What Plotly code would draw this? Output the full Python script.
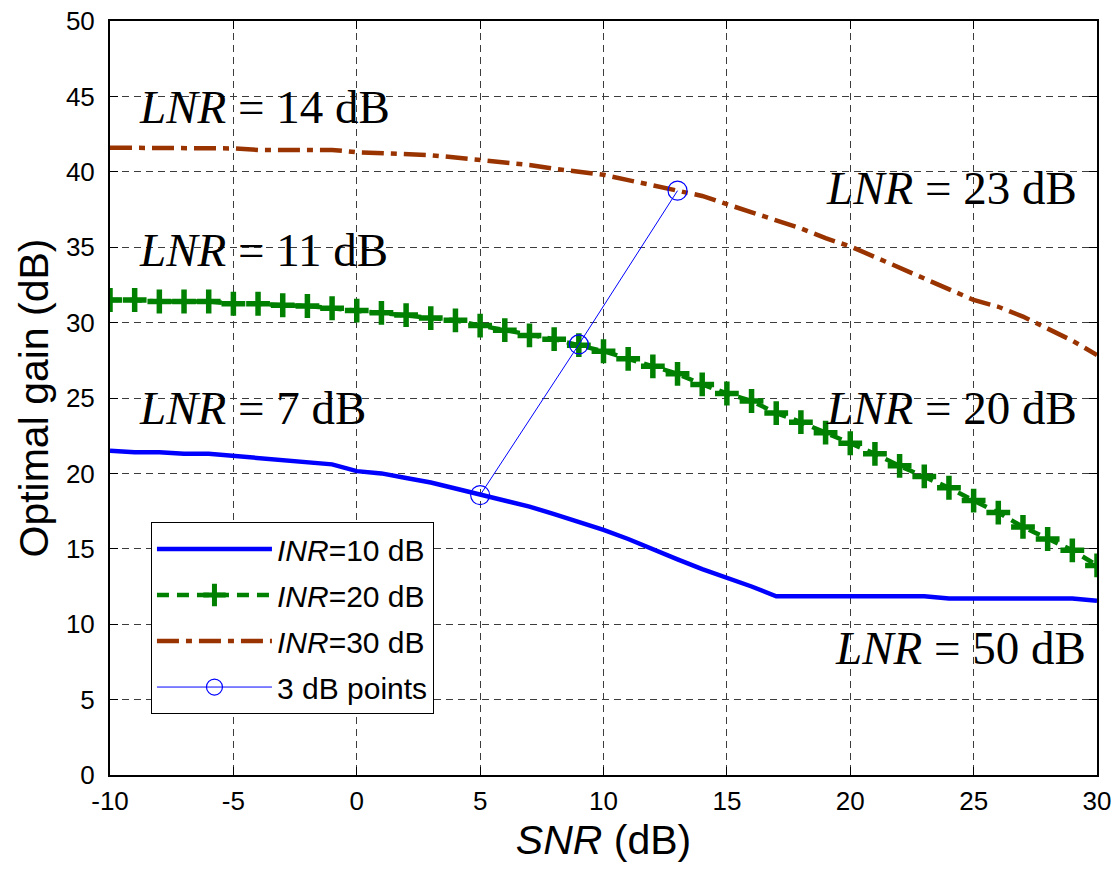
import plotly.graph_objects as go

# ---------------- data ----------------
snr = list(range(-10, 31))

inr10 = [21.5, 21.4, 21.4, 21.3, 21.3, 21.15, 21.0, 20.9, 20.75, 20.6,
         20.15, 20.0, 19.7, 19.4, 19.0, 18.6, 18.2, 17.8, 17.3, 16.8,
         16.25, 15.65, 14.95, 14.3, 13.65, 13.1, 12.5, 11.85, 11.85, 11.85,
         11.85, 11.85, 11.85, 11.85, 11.7, 11.7, 11.7, 11.7, 11.7, 11.7,
         11.55]

inr20 = [31.5, 31.5, 31.4, 31.4, 31.4, 31.25, 31.25, 31.15, 31.1, 30.95,
         30.8, 30.65, 30.5, 30.3, 30.15, 29.8, 29.5, 29.15, 28.9, 28.5,
         28.1, 27.6, 27.1, 26.6, 25.9, 25.3, 24.8, 24.0, 23.4, 22.7,
         22.0, 21.3, 20.5, 19.8, 19.05, 18.2, 17.4, 16.45, 15.65, 14.9,
         13.9]

inr30 = [41.6, 41.6, 41.6, 41.6, 41.6, 41.55, 41.45, 41.45, 41.45, 41.45,
         41.3, 41.25, 41.15, 41.1, 40.95, 40.8, 40.65, 40.45, 40.2, 40.0,
         39.8, 39.45, 39.1, 38.75, 38.4, 37.85, 37.3, 36.8, 36.25, 35.6,
         35.05, 34.35, 33.65, 32.95, 32.2, 31.5, 31.05, 30.4, 29.6, 28.8,
         27.85]

pts_snr = [5, 9, 13]
pts_gain = [18.56, 28.55, 38.75]

series_names = ["<i>INR</i>=10 dB", "<i>INR</i>=20 dB", "<i>INR</i>=30 dB", "3 dB points"]

lnr_labels = ["14", "11", "7", "23", "20", "50"]
lnr_x = [-8.9, -8.9, -8.9, 29.27, 29.27, 29.63]
lnr_y = [44.3, 34.8, 24.35, 38.9, 24.35, 8.45]
lnr_anchor = ["left", "left", "left", "right", "right", "right"]

x_ticks = list(range(-10, 31, 5))
x_ticktext = ["-10", "-5", "0", "5", "10", "15", "20", "25", "30"]
y_ticks = list(range(0, 51, 5))
y_ticktext = ["0", "5", "10", "15", "20", "25", "30", "35", "40", "45", "50"]

# ---------------- figure ----------------
fig = go.Figure()

fig.add_trace(go.Scatter(
    x=snr, y=inr10, mode="lines", name=series_names[0], legendgroup="a",
    line=dict(color="rgb(0,0,255)", width=4.5)))

fig.add_trace(go.Scatter(
    x=snr, y=inr20, mode="lines+markers", name=series_names[1], legendgroup="b",
    line=dict(color="rgb(0,128,0)", width=4.5, dash="12px,8px"),
    marker=dict(symbol="cross-thin", size=17,
                line=dict(color="rgb(0,128,0)", width=5.5))))

fig.add_trace(go.Scatter(
    x=snr, y=inr30, mode="lines", name=series_names[2], legendgroup="c",
    line=dict(color="rgb(153,51,0)", width=4.5, dash="22px,7px,6px,7px")))

fig.add_trace(go.Scatter(
    x=pts_snr, y=pts_gain, mode="lines+markers", name=series_names[3], legendgroup="d",
    line=dict(color="rgb(0,0,255)", width=1),
    marker=dict(symbol="circle-open", size=19,
                line=dict(color="rgb(0,0,255)", width=1.2))))

for lab, xx, yy, anc in zip(lnr_labels, lnr_x, lnr_y, lnr_anchor):
    fig.add_annotation(
        x=xx, y=yy, xref="x", yref="y", xanchor=anc, yanchor="middle",
        text="<i>LNR</i> = " + lab + " dB", showarrow=False,
        font=dict(family="Liberation Serif", size=47, color="black"))

axis_common = dict(
    showline=True, linecolor="black", linewidth=2, mirror="ticks",
    ticks="inside", ticklen=8, tickwidth=1, tickcolor="black",
    showgrid=True, gridcolor="rgb(60,60,60)", gridwidth=1, griddash="7px,5px",
    zeroline=False, automargin=False, ticklabeloverflow="allow",
    tickfont=dict(family="Liberation Sans", size=26, color="black"),
)

fig.update_xaxes(
    range=[-10, 30], tickvals=x_ticks, ticktext=x_ticktext, ticklabelstandoff=2,
    title=dict(text="<i>SNR</i> (dB)", standoff=10,
               font=dict(family="Liberation Sans", size=41, color="black")),
    **axis_common)
fig.update_yaxes(
    range=[0, 50], tickvals=y_ticks, ticktext=y_ticktext, ticklabelstandoff=8,
    title=dict(text="Optimal gain (dB)", standoff=5,
               font=dict(family="Liberation Sans", size=41, color="black")),
    **axis_common)

fig.update_layout(
    width=1114, height=873,
    margin=dict(l=110, r=17, t=21, b=98),
    paper_bgcolor="white", plot_bgcolor="white",
    showlegend=True,
    legend=dict(
        x=0.0415, y=0.3355, xanchor="left", yanchor="top",
        bgcolor="white", bordercolor="black", borderwidth=1,
        font=dict(family="Liberation Sans", size=30, color="black"),
        itemwidth=115, tracegroupgap=4,
    ),
)

# remove the default page margin so the figure fills the window exactly
fig.write_html(
    "out.html",
    config={"displayModeBar": False},
    post_script="document.body.style.margin='0px';document.body.style.overflow='hidden';",
)
